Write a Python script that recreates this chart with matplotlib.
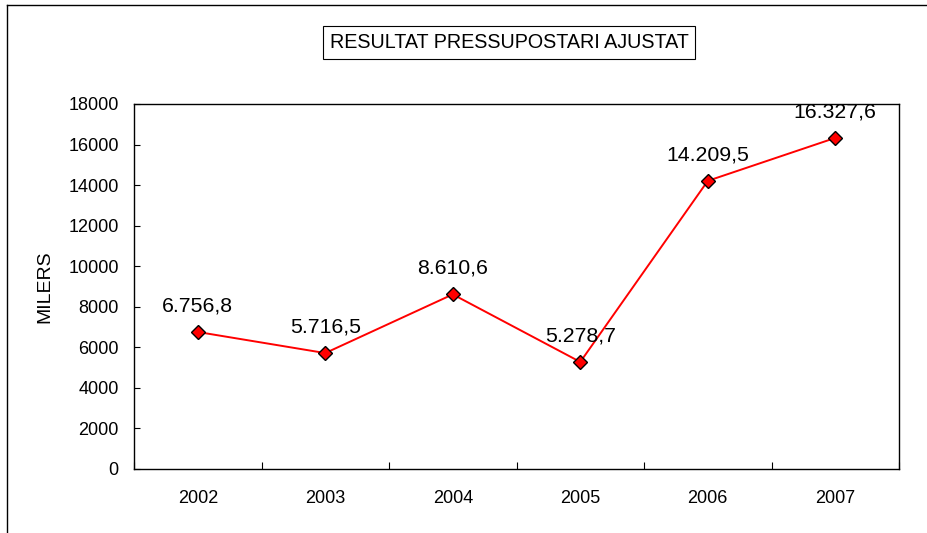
import matplotlib
matplotlib.use("Agg")
import matplotlib.pyplot as plt
from matplotlib.lines import Line2D

plt.rcParams['font.family'] = ['Liberation Sans', 'DejaVu Sans']

# data
years = ['2002', '2003', '2004', '2005', '2006', '2007']
values = [6756.8, 5716.5, 8610.6, 5278.7, 14209.5, 16327.6]
labels = ['6.756,8', '5.716,5', '8.610,6', '5.278,7', '14.209,5', '16.327,6']
yticks = [0, 2000, 4000, 6000, 8000, 10000, 12000, 14000, 16000, 18000]

fig = plt.figure(figsize=(9.28, 5.33), dpi=100)
ax = fig.add_axes([0.1444, 0.1201, 0.8244, 0.6848])

x = list(range(len(years)))
ax.plot(x, values, color='red', lw=1.4, marker='D', markersize=7,
        markerfacecolor='red', markeredgecolor='black', markeredgewidth=1)

for xi, v, lab in zip(x, values, labels):
    ax.annotate(lab, (xi, v), xytext=(0, 12), textcoords='offset points',
                ha='center', va='bottom', fontsize=15.3)

ax.set_xlim(-0.5, len(years) - 0.5)
ax.set_ylim(0, 18000)
ax.set_yticks(yticks)
ax.set_yticklabels([str(t) for t in yticks])
ax.tick_params(axis='y', direction='in', length=4, pad=11, labelsize=13)

# category boundaries get the tick marks, centers get the labels
ax.set_xticks([i - 0.5 for i in range(len(years) + 1)])
ax.set_xticklabels([])
ax.set_xticks(x, minor=True)
ax.set_xticklabels(years, minor=True)
ax.tick_params(axis='x', which='major', direction='in', length=5)
ax.tick_params(axis='x', which='minor', length=0, pad=15, labelsize=13)

for s in ax.spines.values():
    s.set_linewidth(1)

ax.set_ylabel('MILERS', fontsize=14, labelpad=11)

fig.text(0.5485, 0.921, 'RESULTAT PRESSUPOSTARI AJUSTAT', ha='center', va='center',
         fontsize=14.2, bbox=dict(facecolor='white', edgecolor='black', lw=0.8, pad=5))

# outer chart frame (only left and top edges are visible)
fig.add_artist(Line2D([0.008, 0.008], [0, 0.991], color='black', lw=1))
fig.add_artist(Line2D([0.008, 1], [0.991, 0.991], color='black', lw=1))

fig.savefig('out.png', dpi=100)
